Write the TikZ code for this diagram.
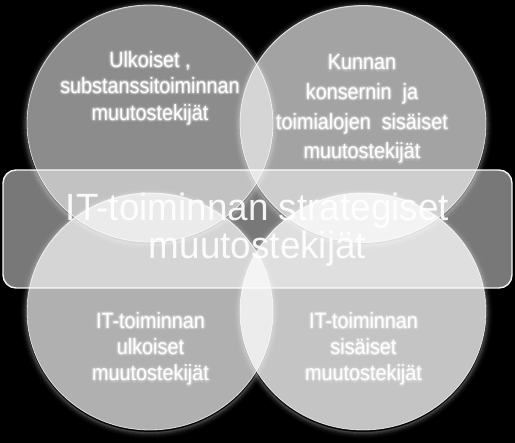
\documentclass[tikz,border=0pt]{standalone}
\usepackage{fontspec}
\setmainfont{Liberation Sans}
\newfontfamily\cfont{Liberation Sans}[FakeStretch=0.9]
\newfontfamily\bfont{Liberation Sans}[FakeStretch=0.97]
\usetikzlibrary{calc}
\tikzset{
  ct/.style={font=\cfont\fontsize{22}{26}\selectfont, text=white, anchor=base, inner sep=0pt},
  bigtext/.style={font=\bfont\fontsize{38}{40}\selectfont, text=white, text opacity=0.92, anchor=base, inner sep=0pt},
  circ/.style={fill=white, draw=white, draw opacity=0.75, line width=0.8pt},
  glowring/.style={draw=white, line width=1.2pt},
  midrect/.style={fill=white, fill opacity=0.47, draw=white, draw opacity=0.95, line width=1.4pt, rounded corners=13pt}
}
\newcommand\gline[4]{%
  \foreach \a in {0,45,...,315}{\node[ct, opacity=0.12] at ($(#2,#3)+(\a:1.2)$) {#4};}
  \foreach \a in {22,67,...,337}{\node[ct, opacity=0.06] at ($(#2,#3)+(\a:2.4)$) {#4};}
  \node[ct] (#1) at (#2,#3) {#4};
}
\begin{document}
\begin{tikzpicture}[x=1pt, y=-1pt]
  \fill[black] (0,0) rectangle (515,443);
  \useasboundingbox (0,0) rectangle (515,443);
  \coordinate (cTL) at (150,123.5);
  \coordinate (cTR) at (363,124);
  \coordinate (cBL) at (150,311.5);
  \coordinate (cBR) at (363,311.5);
  % glow
  \foreach \c in {cTL,cTR,cBL,cBR}{
    \foreach \k/\o in {1/0.22,2/0.15,3/0.10,4/0.06,5/0.035,6/0.02}{
      \draw[glowring, draw opacity=\o] ($(\c)+(0,1.5)$) ellipse [x radius=123+\k, y radius=118.5+\k];
    }
  }
  % circles
  \draw[circ, fill opacity=0.55] (cTL) ellipse [x radius=123, y radius=118.5];
  \draw[circ, fill opacity=0.64] (cTR) ellipse [x radius=123, y radius=118.5];
  \draw[circ, fill opacity=0.69] (cBL) ellipse [x radius=123, y radius=118.5];
  \draw[circ, fill opacity=0.77] (cBR) ellipse [x radius=123, y radius=118.5];
  % middle rectangle
  \draw[midrect] (3,170) rectangle (512,288);
  % circle texts
  \gline{tl1}{150}{67.3}{Ulkoiset ,}
  \gline{tl2}{150}{93.3}{substanssitoiminnan}
  \gline{tl3}{150}{120.7}{muutostekijät}
  \gline{tr1}{362}{70}{Kunnan}
  \gline{tr2}{362}{99.5}{konsernin~ ja}
  \gline{tr3}{362}{129.3}{toimialojen~ sisäiset}
  \gline{tr4}{362}{159}{muutostekijät}
  \gline{bl1}{150.5}{328.3}{IT-toiminnan}
  \gline{bl2}{150.5}{354.5}{ulkoiset}
  \gline{bl3}{150.5}{381}{muutostekijät}
  \gline{br1}{363.5}{328.3}{IT-toiminnan}
  \gline{br2}{363.5}{354.5}{sisäiset}
  \gline{br3}{363.5}{381}{muutostekijät}
  % central text
  \node[bigtext] (m1) at (257.5,220.7) {IT-toiminnan strategiset};
  \node[bigtext] (m2) at (257.5,259) {muutostekijät};
\end{tikzpicture}
\end{document}
